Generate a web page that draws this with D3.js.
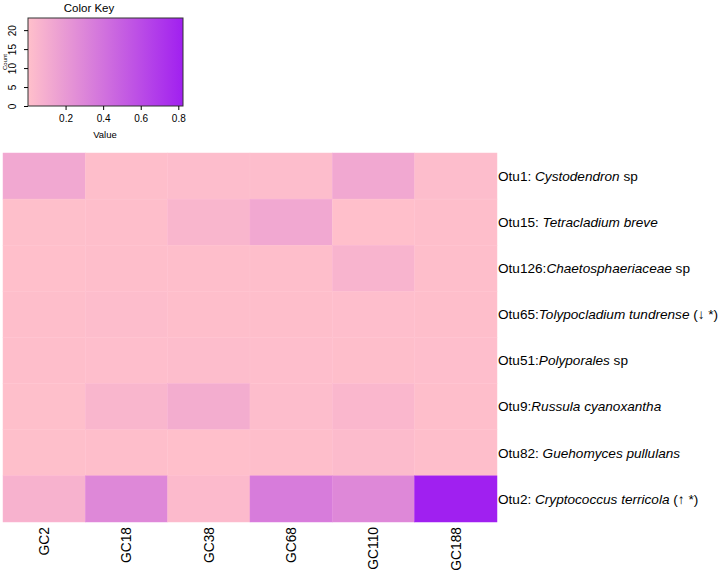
<!DOCTYPE html>
<html>
<head>
<meta charset="utf-8">
<script src="https://cdn.jsdelivr.net/npm/d3@7"></script>
<style>
  body { margin: 0; background: #fff; }
  svg { font-family: "Liberation Sans", Arial, sans-serif; }
</style>
</head>
<body>
<svg id="chart" width="720" height="573"></svg>
<script>
const samples = ['GC2', 'GC18', 'GC38', 'GC68', 'GC110', 'GC188'];

const otuIds = ['Otu1:', 'Otu15:', 'Otu126:', 'Otu65:', 'Otu51:', 'Otu9:', 'Otu82:', 'Otu2:'];
const otuTaxa = ['Cystodendron', 'Tetracladium breve', 'Chaetosphaeriaceae', 'Tolypocladium tundrense',
  'Polyporales', 'Russula cyanoxantha', 'Guehomyces pullulans', 'Cryptococcus terricola'];
const otuSpaced = [true, true, false, false, false, false, true, true];
const otuSuffix = [' sp', '', ' sp', ' (\u2193 *)', ' sp', '', '', ' (\u2191 *)'];

// relative abundance, one row per OTU, columns follow samples
const values = [
  [0.125, 0.008, 0.015, 0.015, 0.125, 0.015],
  [0.005, 0.008, 0.050, 0.125, 0.004, 0.010],
  [0.004, 0.008, 0.010, 0.010, 0.060, 0.010],
  [0.008, 0.015, 0.010, 0.010, 0.012, 0.010],
  [0.008, 0.012, 0.015, 0.012, 0.010, 0.012],
  [0.006, 0.050, 0.100, 0.015, 0.045, 0.010],
  [0.005, 0.010, 0.004, 0.010, 0.025, 0.010],
  [0.072, 0.290, 0.030, 0.350, 0.290, 0.825]
];

const keyTicks = [0.2, 0.4, 0.6, 0.8];
const countTicks = [0, 5, 10, 15, 20];

const svg = d3.select('#chart');

const color = d3.scaleLinear()
  .domain([0, 0.825])
  .range(['#FFC0CB', '#A020F0'])
  .interpolate(d3.interpolateRgb);

// Heatmap
const x = d3.scaleBand().domain(samples).range([3, 497]);
const y = d3.scaleBand().domain(otuIds).range([153, 522]);

const cells = [];
values.forEach((row, i) => row.forEach((v, j) => cells.push({ otu: otuIds[i], sample: samples[j], v })));

svg.append('g')
  .selectAll('rect')
  .data(cells)
  .enter().append('rect')
    .attr('x', d => x(d.sample))
    .attr('y', d => y(d.otu))
    .attr('width', x.bandwidth())
    .attr('height', y.bandwidth())
    .attr('fill', d => color(d.v))
    .attr('stroke', d => d3.color(color(d.v)).brighter(0.06))
    .attr('stroke-width', 0.5);

// Row labels
const rowLabels = svg.append('g')
  .selectAll('text')
  .data(otuIds)
  .enter().append('text')
    .attr('x', 498)
    .attr('y', d => y(d) + y.bandwidth() / 2)
    .attr('dy', '0.35em')
    .attr('font-size', 13.6)
    .attr('fill', '#000');

rowLabels.append('tspan').text(d => d);
rowLabels.append('tspan')
  .attr('font-style', 'italic')
  .text((d, i) => (otuSpaced[i] ? ' ' : '') + otuTaxa[i]);
rowLabels.append('tspan').text((d, i) => otuSuffix[i]);

// Column labels
svg.append('g')
  .selectAll('text')
  .data(samples)
  .enter().append('text')
    .attr('transform', d => `translate(${x(d) + x.bandwidth() / 2}, 527) rotate(-90)`)
    .attr('text-anchor', 'end')
    .attr('dy', '0.35em')
    .attr('font-size', 13.8)
    .text(d => d);

// Color key
const kx = d3.scaleLinear().domain([0, 0.825]).range([28, 183]);
const ky = d3.scaleLinear().domain([0, 23.2]).range([106, 18]);

const defs = svg.append('defs');
const grad = defs.append('linearGradient').attr('id', 'keygrad');
d3.range(0, 1.0001, 0.1).forEach(t => {
  grad.append('stop')
    .attr('offset', t)
    .attr('stop-color', color(t * 0.825));
});

const key = svg.append('g');

key.append('rect')
  .attr('x', kx(0))
  .attr('y', ky(23.2))
  .attr('width', kx(0.825) - kx(0))
  .attr('height', ky(0) - ky(23.2))
  .attr('fill', 'url(#keygrad)')
  .attr('stroke', '#333')
  .attr('stroke-width', 1);

key.append('g')
  .attr('transform', 'translate(0, 106)')
  .call(d3.axisBottom(kx).tickValues(keyTicks).tickSize(4).tickSizeOuter(0).tickFormat(d3.format('.1f')))
  .call(g => g.select('.domain').remove())
  .call(g => g.selectAll('text').attr('font-size', 10).attr('font-family', null).attr('dy', '0.9em'));

const yAxis = key.append('g')
  .attr('transform', 'translate(28, 0)')
  .call(d3.axisLeft(ky).tickValues(countTicks).tickSize(4).tickSizeOuter(0))
  .call(g => g.select('.domain').remove());

yAxis.selectAll('text')
  .attr('font-size', 10)
  .attr('font-family', null)
  .attr('text-anchor', 'middle')
  .attr('x', null)
  .attr('dy', null)
  .attr('transform', 'translate(-12, 0) rotate(-90)')
  .attr('y', 0);

key.append('text')
  .attr('x', 89)
  .attr('y', 12)
  .attr('text-anchor', 'middle')
  .attr('font-size', 11.5)
  .text('Color Key');

key.append('text')
  .attr('x', 105)
  .attr('y', 138)
  .attr('text-anchor', 'middle')
  .attr('font-size', 9.5)
  .text('Value');

key.append('text')
  .attr('transform', 'translate(7, 62) rotate(-90)')
  .attr('text-anchor', 'middle')
  .attr('font-size', 6)
  .text('Count');
</script>
</body>
</html>
